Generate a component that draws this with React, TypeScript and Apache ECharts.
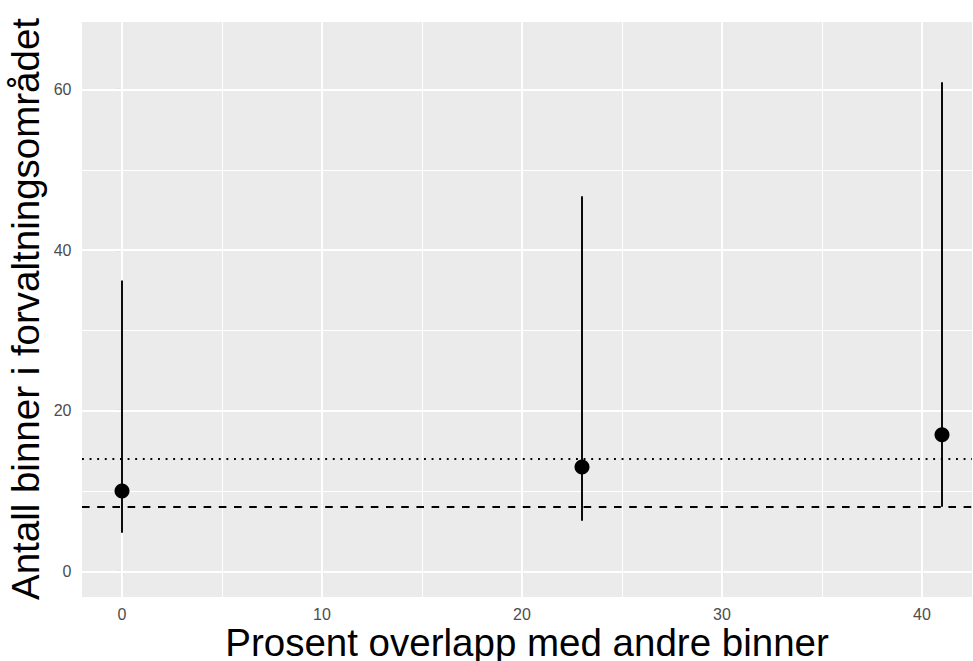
import React, { useEffect, useRef } from "react";
import * as echarts from "echarts";

const xValues = [0, 23, 41];
const midValues = [10, 13, 17];
const lowValues = [4.8, 6.3, 8.05];
const highValues = [36.2, 46.7, 60.9];
const dottedRef = 14;
const dashedRef = 8;
const xTicks = [0, 10, 20, 30, 40];
const xMinor = [5, 15, 25, 35];
const yTicks = [0, 20, 40, 60];
const yMinor = [10, 30, 50];
const xTitle = "Prosent overlapp med andre binner";
const yTitle = "Antall binner i forvaltningsområdet";

const FONT = "'Liberation Sans', Arial, Helvetica, sans-serif";

export default function App() {
  const ref = useRef<HTMLDivElement>(null);
  useEffect(() => {
    if (!ref.current) return;
    const chart = echarts.init(ref.current, null, { renderer: "svg" });
    const gridMark = (vals: number[], key: string, width: number) =>
      vals.map((v) => ({ [key]: v, lineStyle: { color: "#FFFFFF", width, type: "solid" } }));
    chart.setOption({
      animation: false,
      backgroundColor: "#FFFFFF",
      textStyle: { fontFamily: FONT },
      grid: {
        left: 82,
        right: 1,
        top: 22,
        bottom: 64,
        show: true,
        backgroundColor: "#EBEBEB",
        borderWidth: 0,
      },
      xAxis: {
        type: "value",
        min: -2.0,
        max: 42.5,
        axisLine: { show: false },
        splitLine: { show: false },
        axisTick: {
          show: true,
          customValues: xTicks,
          length: 5,
          lineStyle: { color: "#333333", width: 1.1 },
        },
        axisLabel: {
          customValues: xTicks,
          color: "#4D4D4D",
          fontSize: 16,
          margin: 11,
          lineHeight: 12,
          fontFamily: FONT,
        },
      },
      yAxis: {
        type: "value",
        min: -3.2,
        max: 68.4,
        axisLine: { show: false },
        splitLine: { show: false },
        axisTick: {
          show: true,
          customValues: yTicks,
          length: 5,
          lineStyle: { color: "#333333", width: 1.1 },
        },
        axisLabel: {
          customValues: yTicks,
          color: "#4D4D4D",
          fontSize: 16,
          margin: 10.5,
          fontFamily: FONT,
        },
      },
      graphic: [
        {
          type: "text",
          x: 527,
          y: 642,
          style: {
            text: xTitle,
            fontSize: 38.5,
            lineHeight: 30,
            fontFamily: FONT,
            fill: "#000000",
            textAlign: "center",
            textVerticalAlign: "middle",
          },
        },
        {
          type: "text",
          x: 25,
          y: 309,
          rotation: Math.PI / 2,
          style: {
            text: yTitle,
            fontSize: 38.5,
            fontFamily: FONT,
            fill: "#000000",
            textAlign: "center",
            textVerticalAlign: "middle",
          },
        },
      ],
      series: [
        {
          type: "scatter",
          data: [],
          silent: true,
          z: 1,
          markLine: {
            silent: true,
            z: 1,
            symbol: "none",
            label: { show: false },
            animation: false,
            data: [
              ...gridMark(xMinor, "xAxis", 1),
              ...gridMark(yMinor, "yAxis", 1),
              ...gridMark(xTicks, "xAxis", 2),
              ...gridMark(yTicks, "yAxis", 2),
            ],
          },
        },
        {
          type: "scatter",
          data: [],
          silent: true,
          z: 2,
          markLine: {
            silent: true,
            z: 2,
            symbol: "none",
            label: { show: false },
            animation: false,
            data: [
              { yAxis: dottedRef, lineStyle: { color: "#000000", width: 1.9, type: [1.9, 5.7] } },
              { yAxis: dashedRef, lineStyle: { color: "#000000", width: 1.9, type: [7.6, 7.6] } },
            ],
          },
        },
        {
          type: "custom",
          z: 10,
          silent: true,
          data: xValues.map((x, i) => [x, lowValues[i], highValues[i]]),
          encode: { x: 0, y: [1, 2] },
          renderItem: (params: any, api: any) => {
            const x = api.value(0);
            const p1 = api.coord([x, api.value(1)]);
            const p2 = api.coord([x, api.value(2)]);
            return {
              type: "line",
              shape: { x1: p1[0], y1: p1[1], x2: p2[0], y2: p2[1] },
              style: { stroke: "#000000", lineWidth: 1.9 },
            };
          },
        },
        {
          type: "scatter",
          z: 11,
          silent: true,
          symbol: "circle",
          symbolSize: 15,
          itemStyle: { color: "#000000", opacity: 1 },
          data: xValues.map((x, i) => [x, midValues[i]]),
        },
      ],
    });
    return () => chart.dispose();
  }, []);
  return (
    <div
      ref={ref}
      style={{ position: "fixed", left: 0, top: 0, width: 973, height: 661 }}
    />
  );
}
